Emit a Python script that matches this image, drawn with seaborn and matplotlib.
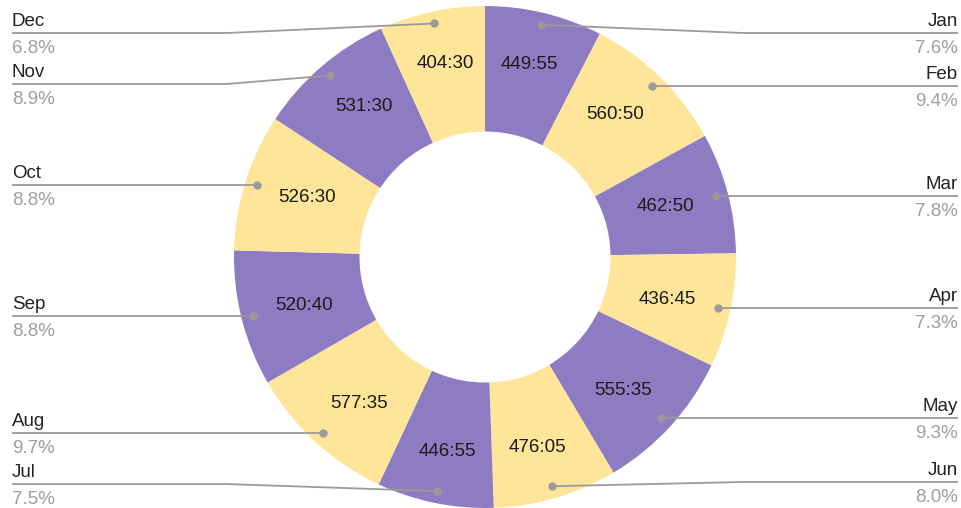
import matplotlib
matplotlib.use("Agg")
import numpy as np
import matplotlib.pyplot as plt
import seaborn as sns

# monthly totals, h:mm
months = ["Jan", "Feb", "Mar", "Apr", "May", "Jun",
          "Jul", "Aug", "Sep", "Oct", "Nov", "Dec"]
durations = ["449:55", "560:50", "462:50", "436:45", "555:35", "476:05",
             "446:55", "577:35", "520:40", "526:30", "531:30", "404:30"]
palette = ["#8e7cc3", "#ffe599"]


def to_hours(s):
    h, m = s.split(":")
    return int(h) + int(m) / 60.0


values = np.array([to_hours(s) for s in durations])
pcts = values / values.sum() * 100

sns.set_theme(style="white")
plt.rcParams['font.family'] = ['Liberation Sans', 'DejaVu Sans']

W, H = 962, 508
fig = plt.figure(figsize=(W / 100, H / 100), dpi=100)
ax = fig.add_axes([0, 0, 1, 1])

cx, cy, R = 485, 251, 251
wedges, _ = ax.pie(values, colors=palette * 6, startangle=90, counterclock=False,
                   center=(cx, cy), radius=R,
                   wedgeprops=dict(width=R * 0.5, linewidth=0))
ax.set_xlim(0, W)
ax.set_ylim(0, H)
ax.set_aspect('equal')
ax.axis('off')

fs = 13.5
line_col = "#9a9a9a"

# slice labels + anchor dots (labels sit a bit further out near top/bottom)
anchors = []
for w, txt in zip(wedges, durations):
    ang = np.deg2rad((w.theta1 + w.theta2) / 2)
    ax.text(cx + 0.745 * R * np.cos(ang), cy + 0.79 * R * np.sin(ang), txt,
            ha='center', va='center', fontsize=fs, color='#1a1a1a')
    anchors.append((cx + 0.952 * R * np.cos(ang), cy + 0.952 * R * np.sin(ang)))

# outside label positions, kept apart from each other
gap = 51
ymin, ymax = 26, 475
label_y = {}
for side in ("right", "left"):
    idx = [i for i, (x, y) in enumerate(anchors) if (x > cx) == (side == "right")]
    idx.sort(key=lambda i: -anchors[i][1])
    ys = [min(max(anchors[i][1], ymin), ymax) for i in idx]
    for k in range(1, len(ys)):
        ys[k] = min(ys[k], ys[k - 1] - gap)
    for k in range(len(ys) - 2, -1, -1):
        ys[k] = max(ys[k], ys[k + 1] + gap)
    for i, y in zip(idx, ys):
        label_y[i] = y

for i, (ax_x, ax_y) in enumerate(anchors):
    y = label_y[i]
    if ax_x > cx:
        bend, end, ha = cx + 258, 958, 'right'
    else:
        bend, end, ha = cx - 258, 12, 'left'
    ax.plot([ax_x, bend, end], [ax_y, y, y], color=line_col, lw=1.3,
            solid_capstyle='butt', zorder=3)
    ax.plot(ax_x, ax_y, 'o', color=line_col, ms=5, zorder=4)
    ax.text(end, y + 3, months[i], ha=ha, va='bottom', fontsize=fs, color='#222222')
    ax.text(end, y - 7, "%.1f%%" % pcts[i], ha=ha, va='top', fontsize=fs, color='#9e9e9e')

fig.savefig("out.png", dpi=100)
